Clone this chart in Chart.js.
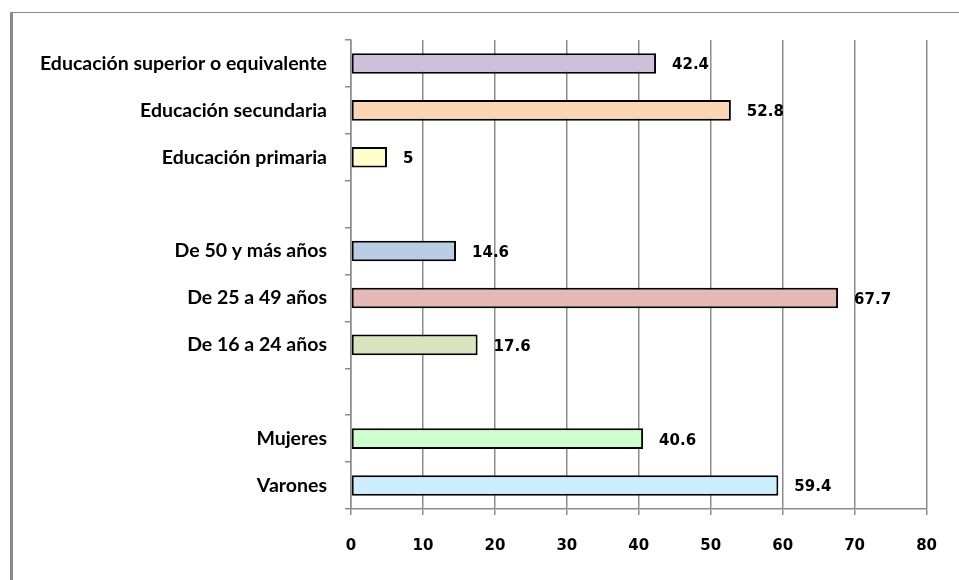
<!DOCTYPE html>
<html>
<head>
<meta charset="utf-8">
<script src="https://cdn.jsdelivr.net/npm/chart.js@4/dist/chart.umd.min.js"></script>
<style>
  body { margin: 0; background: #fff; }
  #wrap { position: relative; width: 959px; height: 580px; overflow: hidden; }
  #frame { position: absolute; left: 10px; top: 12px; width: 960px; height: 600px;
           border-left: 3px solid #8a8a8a; border-top: 1px solid #8a8a8a; }
  canvas { position: absolute; left: 0; top: 0; }
</style>
</head>
<body>
<div id="wrap">
  <div id="frame"></div>
  <canvas id="myChart" width="959" height="580"></canvas>
</div>
<script>
const categories = [
    'Educación superior o equivalente',
    'Educación secundaria',
    'Educación primaria',
    '',
    'De 50 y más años',
    'De 25 a 49 años',
    'De 16 a 24 años',
    '',
    'Mujeres',
    'Varones'
];
const values = [42.4, 52.8, 5, null, 14.6, 67.7, 17.6, null, 40.6, 59.4];
const xTicks = [0, 10, 20, 30, 40, 50, 60, 70, 80];

const barColors = ['#ccc1da', '#fcd5b5', '#ffffcc', '#ffffff', '#b9cde5',
                   '#e6b9b8', '#d7e4bd', '#ffffff', '#ccffcc', '#cceeff'];

const gridColor = '#8c8c8c';

// value labels to the right of each bar
const valueLabels = {
    id: 'valueLabels',
    afterDatasetsDraw(chart) {
        const ctx = chart.ctx;
        const meta = chart.getDatasetMeta(0);
        ctx.save();
        ctx.font = 'bold 15px "DejaVu Sans"';
        ctx.fillStyle = '#000';
        ctx.textAlign = 'left';
        ctx.textBaseline = 'middle';
        meta.data.forEach((bar, i) => {
            if (values[i] === null) return;
            ctx.fillText(String(values[i]), bar.x + 16, bar.y + 2);
        });
        ctx.restore();
    }
};

new Chart(document.getElementById('myChart'), {
    type: 'bar',
    data: {
        labels: categories,
        datasets: [{
            data: values,
            backgroundColor: barColors,
            borderColor: '#000',
            borderWidth: 2,
            borderSkipped: false,
            categoryPercentage: 1,
            barPercentage: 0.44
        }]
    },
    options: {
        indexAxis: 'y',
        responsive: false,
        animation: false,
        layout: { padding: { top: 40, right: 29, left: 0, bottom: 0 } },
        plugins: {
            legend: { display: false },
            tooltip: { enabled: false }
        },
        scales: {
            x: {
                min: 0,
                max: 80,
                afterBuildTicks: (scale) => {
                    scale.ticks = xTicks.map(v => ({ value: v }));
                },
                afterFit: (scale) => { scale.height = 71; },
                grid: {
                    color: gridColor,
                    lineWidth: 1.5,
                    tickLength: 6
                },
                border: { color: gridColor, width: 1.5 },
                ticks: {
                    padding: 22,
                    color: '#000',
                    font: { family: '"DejaVu Sans"', size: 15, weight: 'bold' }
                }
            },
            y: {
                afterFit: (scale) => { scale.width = 351; },
                grid: {
                    drawOnChartArea: false,
                    color: gridColor,
                    lineWidth: 1.5,
                    tickLength: 6,
                    offset: true
                },
                border: { color: gridColor, width: 1.5 },
                ticks: {
                    padding: 18,
                    color: '#000',
                    autoSkip: false,
                    font: { family: 'Lato', size: 19.5, weight: 'bold' }
                }
            }
        }
    },
    plugins: [valueLabels]
});
</script>
</body>
</html>
